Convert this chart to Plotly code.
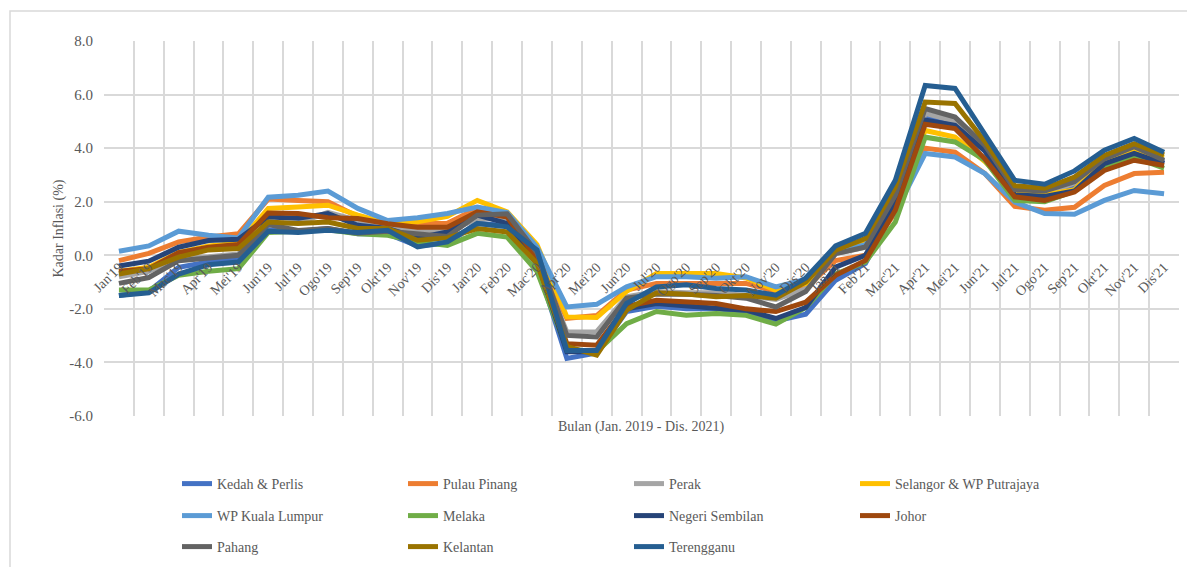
import plotly.graph_objects as go

months = ["Jan'19", "Feb'19", "Mac'19", "Apr'19", "Mei'19", "Jun'19", "Jul'19", "Ogo'19", "Sep'19", "Okt'19", "Nov'19", "Dis'19",
          "Jan'20", "Feb'20", "Mac'20", "Apr'20", "Mei'20", "Jun'20", "Jul'20", "Ogo'20", "Sep'20", "Okt'20", "Nov'20", "Dis'20",
          "Jan'21", "Feb'21", "Mac'21", "Apr'21", "Mei'21", "Jun'21", "Jul'21", "Ogo'21", "Sep'21", "Okt'21", "Nov'21", "Dis'21"]

y_tick_values = [-6, -4, -2, 0, 2, 4, 6, 8]
y_tick_labels = ["-6.0", "-4.0", "-2.0", "0.0", "2.0", "4.0", "6.0", "8.0"]

kedah_perlis = [-1.5, -1.35, -0.45, -0.25, -0.15, 0.95, 0.9, 1.0, 0.8, 0.8, 0.35, 0.45, 1.2, 1.1, -0.35, -3.85, -3.65, -2.1,
                -1.9, -2.0, -2.0, -2.1, -2.45, -2.2, -0.93, -0.3, 1.75, 5.16, 4.85, 3.9, 2.15, 2.15, 2.55, 3.45, 3.95, 3.45]
pulau_pinang = [-0.2, 0.07, 0.5, 0.68, 0.8, 2.1, 2.05, 2.0, 1.45, 1.1, 1.18, 1.2, 1.75, 1.45, 0.0, -2.35, -2.25, -1.3,
                -1.05, -1.05, -1.05, -1.05, -1.35, -1.2, -0.2, 0.0, 1.6, 4.0, 3.85, 3.05, 1.83, 1.68, 1.79, 2.61, 3.05, 3.1]
perak = [-0.8, -0.6, -0.1, -0.05, 0.05, 1.2, 1.2, 1.6, 1.3, 1.0, 0.95, 0.9, 1.35, 1.4, -0.1, -2.86, -2.85, -1.55,
         -1.35, -1.4, -1.4, -1.5, -1.65, -1.25, 0.06, 0.3, 2.1, 5.3, 5.0, 4.0, 2.35, 2.3, 2.7, 3.55, 4.0, 3.5]
selangor_putrajaya = [-0.6, -0.45, 0.1, 0.35, 0.45, 1.75, 1.8, 1.87, 1.5, 1.2, 1.25, 1.45, 2.05, 1.62, 0.4, -2.3, -2.32, -1.35,
                      -0.68, -0.68, -0.68, -0.85, -1.3, -1.05, 0.1, 0.5, 2.0, 4.66, 4.41, 3.5, 2.36, 2.25, 2.45, 3.5, 3.9, 3.65]
wp_kuala_lumpur = [0.15, 0.35, 0.9, 0.75, 0.65, 2.17, 2.24, 2.4, 1.75, 1.3, 1.4, 1.56, 1.8, 1.6, 0.3, -1.93, -1.83, -1.18,
                   -0.8, -0.8, -0.86, -0.8, -1.18, -0.9, 0.1, 0.4, 1.6, 3.8, 3.67, 3.05, 1.99, 1.56, 1.53, 2.05, 2.42, 2.3]
melaka = [-1.3, -1.3, -0.75, -0.6, -0.5, 0.85, 0.9, 0.95, 0.8, 0.75, 0.5, 0.37, 0.82, 0.68, -0.6, -3.5, -3.6, -2.55,
          -2.1, -2.24, -2.17, -2.24, -2.57, -1.95, -0.7, -0.25, 1.24, 4.41, 4.23, 3.55, 2.05, 2.0, 2.4, 3.25, 3.65, 3.25]
negeri_sembilan = [-0.4, -0.22, 0.3, 0.55, 0.6, 1.43, 1.38, 1.56, 1.12, 1.0, 0.65, 0.87, 1.5, 1.19, -0.2, -3.6, -3.6, -2.0,
                   -1.8, -1.9, -1.98, -2.05, -2.36, -1.95, -0.44, 0.0, 1.95, 5.05, 4.85, 3.9, 2.25, 2.2, 2.4, 3.42, 3.8, 3.42]
johor = [-0.6, -0.5, 0.1, 0.3, 0.4, 1.58, 1.56, 1.4, 1.37, 1.18, 1.05, 1.05, 1.62, 1.43, -0.15, -3.3, -3.36, -1.9,
         -1.68, -1.75, -1.8, -2.0, -2.1, -1.75, -0.75, -0.19, 1.68, 4.89, 4.73, 3.6, 2.18, 2.05, 2.36, 3.17, 3.55, 3.35]
pahang = [-1.05, -0.83, -0.2, -0.1, 0.0, 1.15, 0.93, 1.0, 0.82, 0.9, 0.82, 0.7, 1.5, 1.55, 0.1, -2.99, -3.05, -1.6,
          -1.45, -1.45, -1.5, -1.6, -1.93, -1.35, 0.06, 0.31, 2.24, 5.48, 5.16, 4.1, 2.45, 2.4, 2.75, 3.6, 4.05, 3.55]
kelantan = [-0.7, -0.5, -0.07, 0.2, 0.25, 1.24, 1.19, 1.24, 1.0, 1.0, 0.56, 0.65, 1.0, 0.87, -0.3, -3.4, -3.73, -2.05,
            -1.4, -1.45, -1.55, -1.5, -1.6, -1.0, 0.19, 0.63, 2.55, 5.72, 5.67, 4.25, 2.6, 2.5, 2.92, 3.73, 4.17, 3.75]
terengganu = [-1.5, -1.4, -0.7, -0.35, -0.25, 0.9, 0.85, 0.93, 0.85, 0.93, 0.31, 0.5, 1.19, 1.06, 0.2, -3.55, -3.55, -1.8,
              -1.18, -1.1, -1.24, -1.3, -1.49, -0.85, 0.35, 0.82, 2.8, 6.34, 6.23, 4.55, 2.8, 2.65, 3.15, 3.92, 4.36, 3.85]

series_names = ["Kedah & Perlis", "Pulau Pinang", "Perak", "Selangor & WP Putrajaya", "WP Kuala Lumpur", "Melaka",
                "Negeri Sembilan", "Johor", "Pahang", "Kelantan", "Terengganu"]
series_values = [kedah_perlis, pulau_pinang, perak, selangor_putrajaya, wp_kuala_lumpur, melaka,
                 negeri_sembilan, johor, pahang, kelantan, terengganu]
series_colors = ["#4472C4", "#ED7D31", "#A5A5A5", "#FFC000", "#5B9BD5", "#70AD47",
                 "#264478", "#9E480E", "#636363", "#997300", "#255E91"]
legend_rows = ["legend", "legend", "legend", "legend", "legend2", "legend2", "legend2", "legend2",
               "legend3", "legend3", "legend3"]

FONT = "Liberation Serif, Times New Roman, serif"
TXT = "#595959"

fig = go.Figure()
for name, vals, col, lg in zip(series_names, series_values, series_colors, legend_rows):
    fig.add_trace(go.Scatter(x=months, y=vals, mode="lines", name=name,
                             line=dict(color=col, width=5), legend=lg))

# page has an 8px body margin; figure coordinates = page coordinates - 8
OFF = 8
W, H = 1195 - OFF, 567 - OFF
L, R, T = 104 - OFF, 16, 41 - OFF
pw = W - L - R
ph = 375
B = H - T - ph


def px_x(px):
    return (px - OFF - L) / pw


def px_y(py):
    return (H - B - (py - OFF)) / ph


legend_common = dict(orientation="h", xanchor="left", yanchor="middle", entrywidth=181, entrywidthmode="pixels",
                     font=dict(family=FONT, size=14, color=TXT), bgcolor="rgba(0,0,0,0)", itemwidth=30)

fig.update_layout(
    width=W, height=H,
    margin=dict(l=L, r=R, t=T, b=B, autoexpand=False),
    paper_bgcolor="white", plot_bgcolor="white",
    font=dict(family=FONT, color=TXT, size=14),
    legend=dict(x=px_x(177), y=px_y(484), **legend_common),
    legend2=dict(x=px_x(177), y=px_y(516), **legend_common),
    legend3=dict(x=px_x(177), y=px_y(547), **legend_common),
    xaxis=dict(type="category", range=[-0.5, 35.5], tickson="boundaries", showgrid=True,
               gridcolor="#D9D9D9", gridwidth=1.5, ticks="", showline=False, zeroline=False,
               anchor="free", position=6 / 14, tickangle=-45,
               tickfont=dict(family=FONT, size=14, color=TXT)),
    yaxis=dict(range=[-6, 8], tickmode="array", tickvals=y_tick_values, ticktext=y_tick_labels,
               showgrid=True, gridcolor="#D9D9D9",
               gridwidth=1.5, zeroline=False, showline=False, ticks="", ticklabelstandoff=10,
               tickfont=dict(family=FONT, size=15, color=TXT),
               title=dict(text="Kadar Inflasi (%)", font=dict(family=FONT, size=14, color=TXT), standoff=2)),
    annotations=[dict(text="Bulan (Jan. 2019 - Dis. 2021)", xref="paper", yref="paper",
                      x=px_x(641), y=px_y(427), xanchor="center", yanchor="middle", showarrow=False,
                      font=dict(family=FONT, size=14, color=TXT))],
    shapes=[dict(type="rect", xref="paper", yref="paper", x0=px_x(10), x1=px_x(1191), y0=px_y(590), y1=px_y(11),
                 line=dict(color="#D9D9D9", width=1.5), layer="below")],
)

fig.write_html("out.html")
